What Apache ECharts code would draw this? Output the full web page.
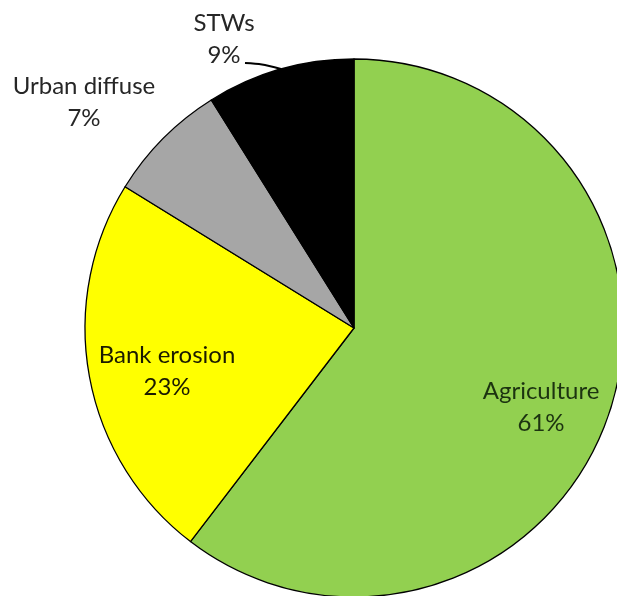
<!DOCTYPE html>
<html>
<head>
<meta charset="utf-8">
<script src="https://cdn.jsdelivr.net/npm/echarts@6/dist/echarts.min.js"></script>
<style>
html,body{margin:0;padding:0;background:#fff;}
#chart{width:617px;height:596px;}
</style>
</head>
<body>
<div id="chart"></div>
<script>
// Data
var categories = ['Agriculture', 'Bank erosion', 'Urban diffuse', 'STWs'];
var shares = [60.4, 23.4, 7.3, 8.9];          // slice sizes measured from the sector angles
var labelPercents = [61, 23, 7, 9];           // percentages printed on the chart
var sliceColors = ['#92D050', '#FFFF00', '#A6A6A6', '#000000'];

var chart = echarts.init(document.getElementById('chart'), null, {renderer: 'canvas'});

// label placement (style only)
var labelPlace = [
  {x: 541, y: 407},
  {x: 167, y: 371},
  {x: 84, y: 102},
  {x: 224, y: 39}
];
var labelColors = ['#1c3310', '#1a1a00', '#262626', '#262626'];

var data = categories.map(function (c, i) {
  var outside = i >= 2;
  return {
    name: c,
    value: shares[i],
    itemStyle: {color: sliceColors[i]},
    label: {
      position: outside ? 'outside' : 'inside',
      color: labelColors[i]
    },
    labelLine: {show: i === 3}
  };
});

chart.setOption({
  animation: false,
  backgroundColor: '#ffffff',
  series: [{
    type: 'pie',
    center: [354, 328],
    radius: 269,
    startAngle: 90,
    clockwise: true,
    avoidLabelOverlap: false,
    itemStyle: {borderColor: '#000000', borderWidth: 1.3},
    label: {
      show: true,
      fontFamily: 'Lato',
      fontSize: 24,
      lineHeight: 32,
      align: 'center',
      formatter: function (p) {
        return p.name + '\n' + labelPercents[p.dataIndex] + '%';
      }
    },
    labelLine: {
      show: false,
      lineStyle: {color: '#000000', width: 2},
      smooth: 0.3
    },
    labelLayout: function (p) {
      var pl = labelPlace[p.dataIndex];
      var res = {x: pl.x, y: pl.y, align: 'center', verticalAlign: 'middle'};
      if (p.dataIndex === 3) {
        res.labelLinePoints = [[245, 63], [262, 64], [281, 69]];
      }
      return res;
    },
    data: data
  }]
});
</script>
</body>
</html>
